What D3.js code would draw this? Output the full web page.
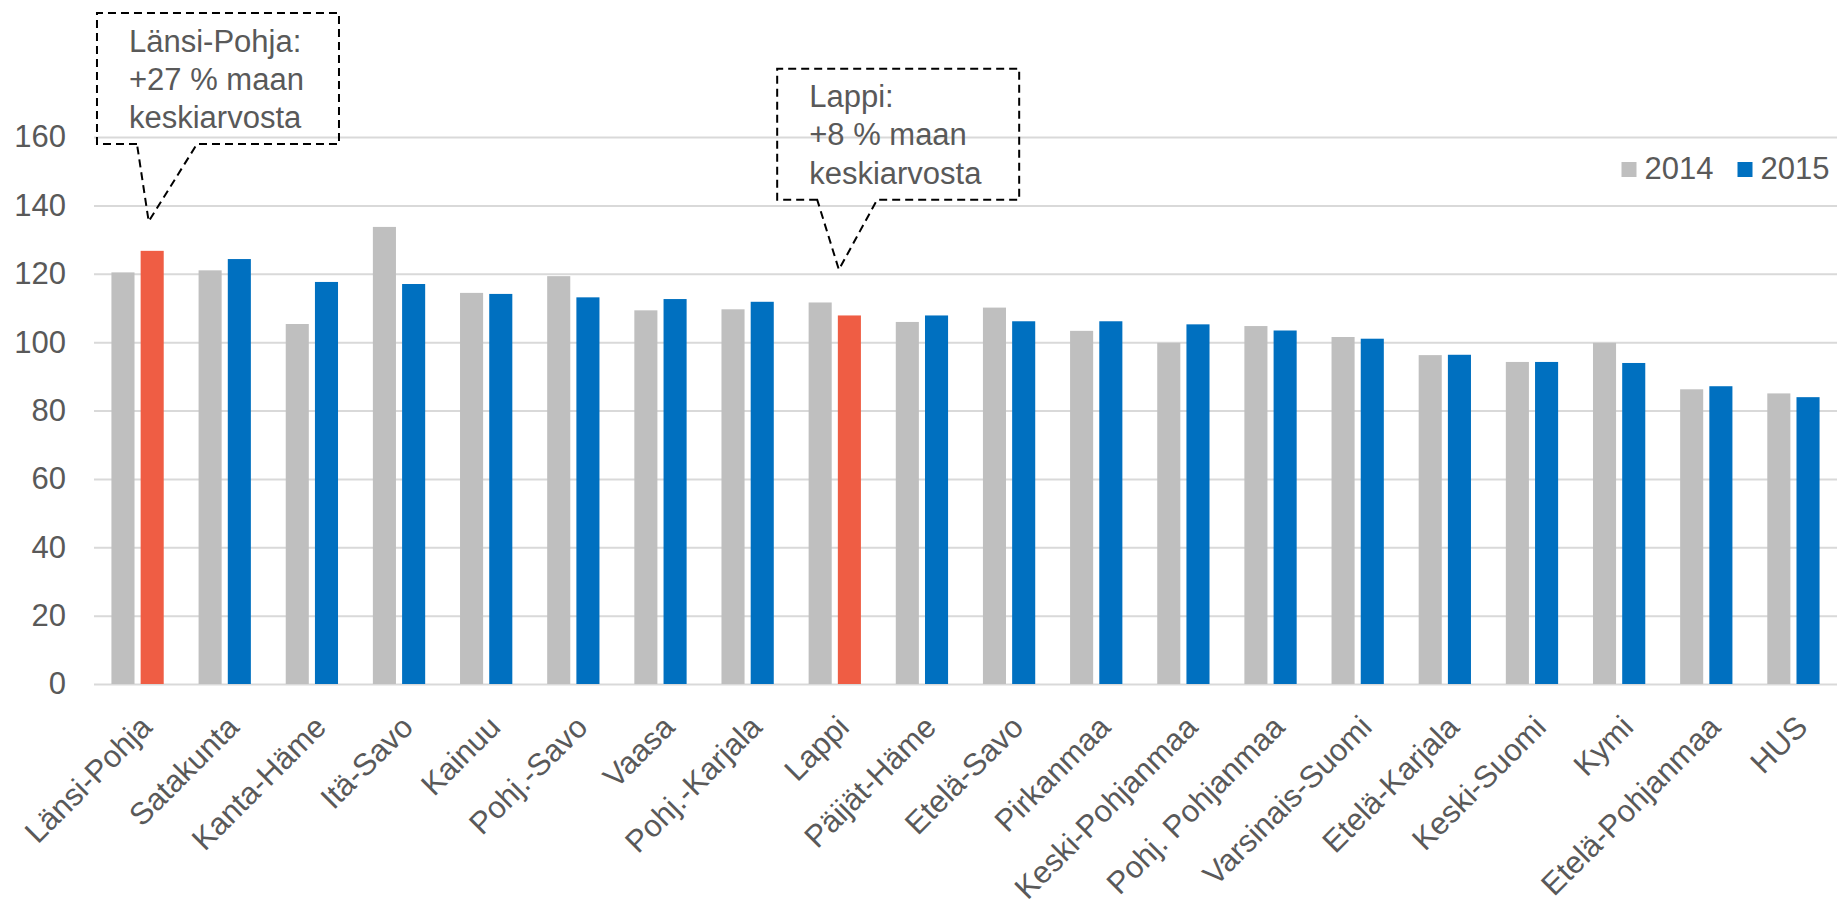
<!DOCTYPE html>
<html>
<head>
<meta charset="utf-8">
<script src="https://cdn.jsdelivr.net/npm/d3@7"></script>
<style>
  html, body { margin: 0; padding: 0; background: #ffffff; }
  svg { display: block; }
  text { font-family: "Liberation Sans", Arial, sans-serif; fill: #595959; }
</style>
</head>
<body>
<script>
// Hospital districts, ordered by the 2015 index (country average = 100)
const categories = ["Länsi-Pohja", "Satakunta", "Kanta-Häme", "Itä-Savo", "Kainuu", "Pohj.-Savo", "Vaasa",
  "Pohj.-Karjala", "Lappi", "Päijät-Häme", "Etelä-Savo", "Pirkanmaa", "Keski-Pohjanmaa", "Pohj. Pohjanmaa",
  "Varsinais-Suomi", "Etelä-Karjala", "Keski-Suomi", "Kymi", "Etelä-Pohjanmaa", "HUS"];
const years = ["2014", "2015"];
const values2014 = [120.4, 121.0, 105.3, 133.7, 114.4, 119.3, 109.3, 109.6, 111.6, 105.9,
  110.1, 103.3, 99.8, 104.7, 101.5, 96.2, 94.2, 99.8, 86.2, 85.0];
const values2015 = [126.7, 124.3, 117.6, 117.0, 114.1, 113.1, 112.6, 111.8, 107.8, 107.8,
  106.1, 106.1, 105.2, 103.4, 101.0, 96.3, 94.2, 93.9, 87.1, 83.9];
const yTicks = [0, 20, 40, 60, 80, 100, 120, 140, 160];
const highlighted = ["Länsi-Pohja", "Lappi"];
// Callout notes: district, value at the pointer tip, text lines
const noteDistricts = ["Länsi-Pohja", "Lappi"];
const noteTipValues = [135.3, 121.2];
const noteLines = [
  ["Länsi-Pohja:", "+27 % maan", "keskiarvosta"],
  ["Lappi:", "+8 % maan", "keskiarvosta"]
];

const W = 1848, H = 901;
const colors = { "2014": "#bfbfbf", "2015": "#0070c0", highlight: "#ef5d44" };
const plot = { left: 94, right: 1837, top: 137, bottom: 684 };

const svg = d3.select("body").append("svg").attr("width", W).attr("height", H);

const x0 = d3.scaleBand().domain(categories).range([plot.left, plot.right]).paddingInner(0.4).paddingOuter(0.2);
const x1 = d3.scaleBand().domain(years).range([0, x0.bandwidth()]).paddingInner(0.21);
const y = d3.scaleLinear().domain([0, 160]).range([plot.bottom, plot.top]);

// Gridlines and value labels
const yAxis = svg.append("g")
  .attr("transform", `translate(${plot.left},0)`)
  .call(d3.axisLeft(y).tickValues(yTicks).tickSize(-(plot.right - plot.left)).tickPadding(28).tickFormat(d3.format("d")));
yAxis.select(".domain").remove();
yAxis.selectAll(".tick line").attr("stroke", "#d9d9d9").attr("stroke-width", 2);
yAxis.selectAll(".tick text").attr("font-size", 31).attr("fill", "#595959")
  .attr("font-family", "'Liberation Sans', Arial, sans-serif");

// Bars
const rows = categories.map((c, i) => ({ c, v: { "2014": values2014[i], "2015": values2015[i] } }));
const groups = svg.append("g").selectAll("g").data(rows).join("g")
  .attr("transform", d => `translate(${x0(d.c)},0)`);
groups.selectAll("rect").data(d => years.map(k => ({ c: d.c, k, v: d.v[k] }))).join("rect")
  .attr("x", d => x1(d.k))
  .attr("width", x1.bandwidth())
  .attr("y", d => y(d.v))
  .attr("height", d => y(0) - y(d.v))
  .attr("fill", d => (d.k === "2015" && highlighted.includes(d.c)) ? colors.highlight : colors[d.k]);

// Category labels, rotated
svg.append("g").selectAll("text").data(categories).join("text")
  .attr("transform", d => `translate(${x0(d) + x0.bandwidth() / 2 + 16},729) rotate(-45)`)
  .attr("text-anchor", "end")
  .attr("font-size", 31)
  .text(d => d);

// Legend
const legendItems = [{ k: "2014", x: 1621.5 }, { k: "2015", x: 1737.5 }];
const lg = svg.append("g").selectAll("g").data(legendItems).join("g")
  .attr("transform", d => `translate(${d.x},0)`);
lg.append("rect").attr("x", 0).attr("y", 162).attr("width", 15).attr("height", 15).attr("fill", d => colors[d.k]);
lg.append("text").attr("x", 23).attr("y", 179).attr("font-size", 31).text(d => d.k);

// Callouts: dashed box with a wedge pointing at the highlighted bar
const noteLayout = [
  { bx: -51.7, bw: 242, by: -208.4, bh: 131, g0: -11.7, g1: 48.3 },
  { bx: -61.7, bw: 242, by: -201, bh: 131, g0: -21.7, g1: 38.3 }
];
noteDistricts.forEach((c, i) => {
  const tx = x0(c) + x1("2015") + x1.bandwidth() / 2 - 3.5 - (i === 1 ? 7 : 0);
  const ty = y(noteTipValues[i]);
  const L = noteLayout[i];
  const bl = tx + L.bx, br = bl + L.bw, bt = ty + L.by, bb = bt + L.bh;
  const path = d3.path();
  path.moveTo(tx + L.g0, bb);
  path.lineTo(bl, bb);
  path.lineTo(bl, bt);
  path.lineTo(br, bt);
  path.lineTo(br, bb);
  path.lineTo(tx + L.g1, bb);
  path.lineTo(tx, ty);
  path.closePath();
  svg.append("path").attr("d", path.toString())
    .attr("fill", "none").attr("stroke", "#000").attr("stroke-width", 2)
    .attr("stroke-dasharray", "8,5");
  const t = svg.append("text").attr("font-size", 31);
  noteLines[i].forEach((line, j) => {
    t.append("tspan").attr("x", bl + 32).attr("y", bt + 38.5 + j * 38.3).text(line);
  });
});
</script>
</body>
</html>
